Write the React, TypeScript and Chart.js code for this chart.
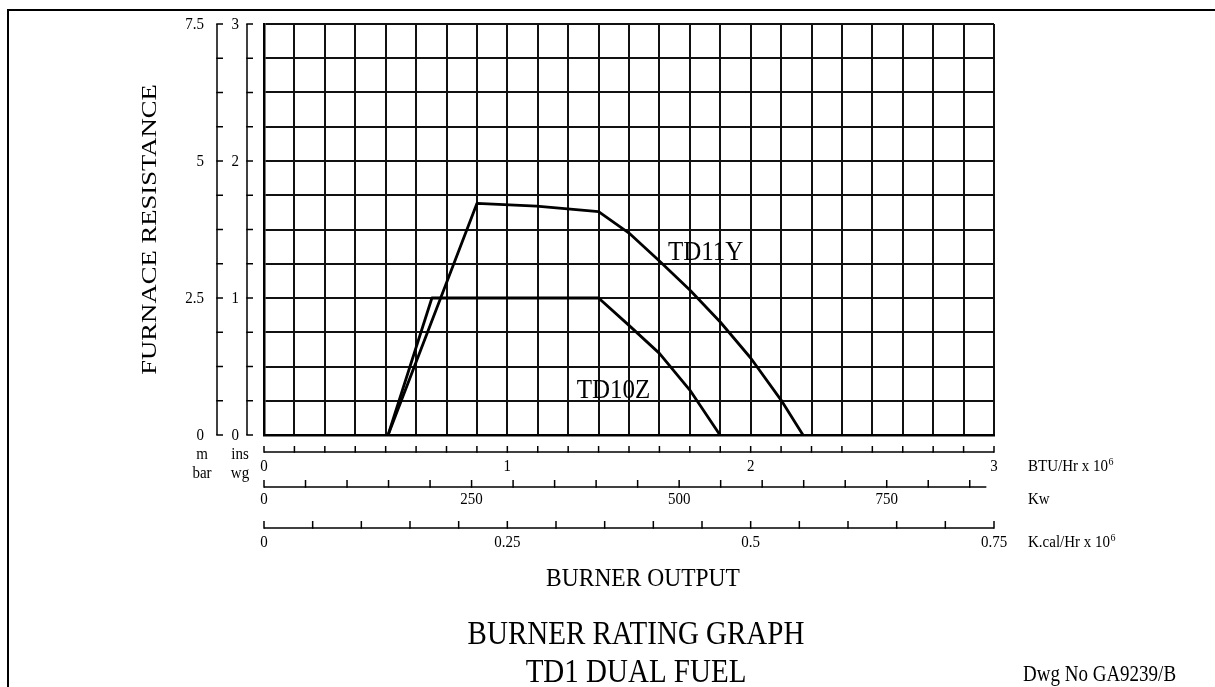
import React, { useEffect, useRef } from "react";
import { Chart, registerables } from "chart.js";

Chart.register(...registerables);

// ---- Data (x: BTU/Hr x 10^6, y: ins wg) ----
const TD11Y_BTU = [0.51, 0.875, 1.12, 1.375, 1.5, 1.625, 1.75, 1.875, 2.0, 2.125, 2.215];
const TD11Y_INSWG = [0, 1.69, 1.67, 1.63, 1.474, 1.27, 1.058, 0.825, 0.562, 0.255, 0];
const TD10Z_BTU = [0.51, 0.69, 1.375, 1.5, 1.625, 1.75, 1.874];
const TD10Z_INSWG = [0, 1.0, 1.0, 0.8, 0.596, 0.328, 0];

// ---- Axis ticks / labels ----
const BTU_LABELS = [0, 1, 2, 3];
const BTU_STEP = 0.125;
const BTU_MAX = 3;
const KW_LABELS = [0, 250, 500, 750];
const KW_STEP = 50;
const KW_LAST_TICK = 850;
const KW_LINE_END = 870;
const KW_PER_MBTU = 293.07;
const KCAL_LABELS = [0, 0.25, 0.5, 0.75];
const KCAL_STEP = 0.05;
const KCAL_MAX = 0.75;
const INSWG_LABELS = [0, 1, 2, 3];
const INSWG_STEP = 0.25;
const INSWG_MAX = 3;
const MBAR_LABELS = [0, 2.5, 5, 7.5];
const MBAR_STEP = 0.625;
const MBAR_MAX = 7.5;

const SERIES_LABELS = ["TD11Y", "TD10Z"];
const SERIES_LABEL_POS = [
  { x: 1.66, y: 1.277 },
  { x: 1.285, y: 0.27 },
];

const FONT = '"Liberation Serif", "Times New Roman", serif';

function txt(
  ctx: CanvasRenderingContext2D,
  s: string,
  x: number,
  y: number,
  size: number,
  align: CanvasTextAlign,
  baseline: CanvasTextBaseline,
  sy = 1.1
) {
  ctx.save();
  ctx.translate(x, y);
  ctx.scale(1, sy);
  ctx.font = `${size}px ${FONT}`;
  ctx.textAlign = align;
  ctx.textBaseline = baseline;
  ctx.fillStyle = "#000";
  ctx.fillText(s, 0, 0);
  ctx.restore();
}

function line(ctx: CanvasRenderingContext2D, x1: number, y1: number, x2: number, y2: number, w = 1.5) {
  ctx.beginPath();
  ctx.lineWidth = w;
  ctx.strokeStyle = "#000";
  ctx.moveTo(x1, y1);
  ctx.lineTo(x2, y2);
  ctx.stroke();
}

const decorPlugin = {
  id: "decor",
  afterDraw(chart: any) {
    const ctx: CanvasRenderingContext2D = chart.ctx;
    const { left, right, top, bottom } = chart.chartArea;
    const sx = chart.scales.x;
    const sy = chart.scales.y;
    const kw = chart.scales.kw;
    const kc = chart.scales.kcal;
    const mb = chart.scales.mbar;
    ctx.save();

    // page frame
    line(ctx, 7, 10, 1215, 10, 2);
    line(ctx, 8, 9, 8, 687, 2);

    // ---- left axes ----
    const mbX = left - 47;
    const inX = left - 17;
    line(ctx, mbX, mb.getPixelForValue(0), mbX, mb.getPixelForValue(MBAR_MAX), 1.5);
    for (let i = 0; i * MBAR_STEP <= MBAR_MAX + 1e-9; i++) {
      const p = mb.getPixelForValue(i * MBAR_STEP);
      line(ctx, mbX - 0.75, p, mbX + 6, p, 1.5);
    }
    MBAR_LABELS.forEach((v) => {
      txt(ctx, String(v), mbX - 13, mb.getPixelForValue(v) + 1, 15, "right", "middle", 1.1);
    });
    line(ctx, inX, sy.getPixelForValue(0), inX, sy.getPixelForValue(INSWG_MAX), 1.5);
    for (let i = 0; i * INSWG_STEP <= INSWG_MAX + 1e-9; i++) {
      const p = sy.getPixelForValue(i * INSWG_STEP);
      line(ctx, inX - 0.75, p, inX + 6, p, 1.5);
    }
    INSWG_LABELS.forEach((v) => {
      txt(ctx, String(v), inX - 8, sy.getPixelForValue(v) + 1, 15, "right", "middle", 1.1);
    });
    txt(ctx, "m", mbX - 15, bottom + 20, 15, "center", "middle", 1.1);
    txt(ctx, "bar", mbX - 15, bottom + 39, 15, "center", "middle", 1.1);
    txt(ctx, "ins", inX - 7, bottom + 20, 15, "center", "middle", 1.1);
    txt(ctx, "wg", inX - 7, bottom + 39, 15, "center", "middle", 1.1);

    // ---- bottom axes ----
    const btuY = bottom + 17;
    line(ctx, sx.getPixelForValue(0), btuY, sx.getPixelForValue(BTU_MAX), btuY, 1.5);
    for (let i = 0; i * BTU_STEP <= BTU_MAX + 1e-9; i++) {
      const p = sx.getPixelForValue(i * BTU_STEP);
      line(ctx, p, btuY + 0.75, p, btuY - 6, 1.5);
    }
    BTU_LABELS.forEach((v) => {
      txt(ctx, String(v), sx.getPixelForValue(v), btuY + 15, 15, "center", "middle", 1.1);
    });

    const kwY = bottom + 52;
    line(ctx, kw.getPixelForValue(0), kwY, kw.getPixelForValue(KW_LINE_END), kwY, 1.5);
    for (let i = 0; i * KW_STEP <= KW_LAST_TICK + 1e-9; i++) {
      const p = kw.getPixelForValue(i * KW_STEP);
      line(ctx, p, kwY + 0.75, p, kwY - 7, 1.5);
    }
    KW_LABELS.forEach((v) => {
      txt(ctx, String(v), kw.getPixelForValue(v), kwY + 13, 15, "center", "middle", 1.1);
    });

    const kcY = bottom + 93;
    line(ctx, kc.getPixelForValue(0), kcY, kc.getPixelForValue(KCAL_MAX), kcY, 1.5);
    for (let i = 0; i * KCAL_STEP <= KCAL_MAX + 1e-9; i++) {
      const p = kc.getPixelForValue(i * KCAL_STEP);
      line(ctx, p, kcY + 0.75, p, kcY - 7, 1.5);
    }
    KCAL_LABELS.forEach((v) => {
      txt(ctx, String(v), kc.getPixelForValue(v), kcY + 15, 15, "center", "middle", 1.1);
    });

    // unit labels
    const ux = right + 34;
    txt(ctx, "BTU/Hr x 10", ux, btuY + 15, 15, "left", "middle", 1.1);
    ctx.font = `15px ${FONT}`;
    let w = ctx.measureText("BTU/Hr x 10").width;
    txt(ctx, "6", ux + w + 0.5, btuY + 10, 10, "left", "middle", 1.1);
    txt(ctx, "Kw", ux, kwY + 13, 15, "left", "middle", 1.1);
    txt(ctx, "K.cal/Hr x 10", ux, kcY + 15, 15, "left", "middle", 1.1);
    ctx.font = `15px ${FONT}`;
    w = ctx.measureText("K.cal/Hr x 10").width;
    txt(ctx, "6", ux + w + 0.5, kcY + 10, 10, "left", "middle", 1.1);

    // series labels
    SERIES_LABELS.forEach((s, i) => {
      const p = SERIES_LABEL_POS[i];
      txt(ctx, s, sx.getPixelForValue(p.x), sy.getPixelForValue(p.y), 25, "left", "alphabetic", 1.12);
    });

    // titles
    ctx.save();
    ctx.translate(150, (top + bottom) / 2);
    ctx.scale(1, 1.27);
    ctx.rotate(-Math.PI / 2);
    ctx.font = `21px ${FONT}`;
    ctx.textAlign = "center";
    ctx.textBaseline = "middle";
    ctx.fillStyle = "#000";
    ctx.fillText("FURNACE RESISTANCE", 0, 0);
    ctx.restore();

    txt(ctx, "BURNER OUTPUT", 643, 586, 23.5, "center", "alphabetic", 1.1);
    txt(ctx, "BURNER RATING GRAPH", 636, 644, 29, "center", "alphabetic", 1.13);
    txt(ctx, "TD1 DUAL FUEL", 636, 682, 29, "center", "alphabetic", 1.13);
    txt(ctx, "Dwg No GA9239/B", 1023, 681, 19, "left", "alphabetic", 1.2);

    ctx.restore();
  },
};

export default function App() {
  const ref = useRef<HTMLCanvasElement | null>(null);
  useEffect(() => {
    if (!ref.current) return;
    const chart = new Chart(ref.current, {
      type: "scatter",
      data: {
        datasets: [
          {
            label: SERIES_LABELS[0],
            data: TD11Y_BTU.map((x, i) => ({ x, y: TD11Y_INSWG[i] })),
            showLine: true,
            borderColor: "#000",
            borderWidth: 2.8,
            borderJoinStyle: "round",
            pointRadius: 0,
            fill: false,
          },
          {
            label: SERIES_LABELS[1],
            data: TD10Z_BTU.map((x, i) => ({ x, y: TD10Z_INSWG[i] })),
            showLine: true,
            borderColor: "#000",
            borderWidth: 2.8,
            borderJoinStyle: "round",
            pointRadius: 0,
            fill: false,
          },
        ],
      },
      options: {
        animation: false,
        responsive: false,
        devicePixelRatio: 1,
        layout: { padding: { left: 264, right: 221, top: 24, bottom: 252 } },
        plugins: { legend: { display: false }, tooltip: { enabled: false }, title: { display: false } },
        scales: {
          x: {
            type: "linear",
            position: "bottom",
            min: 0,
            max: BTU_MAX,
            ticks: { display: false, stepSize: BTU_STEP, autoSkip: false, maxTicksLimit: 200 },
            grid: { color: "#111", lineWidth: 2, drawTicks: false },
            border: { display: true, color: "#000", width: 2.5 },
            afterFit: (s: any) => {
              s.height = 0;
            },
          },
          y: {
            type: "linear",
            position: "left",
            min: 0,
            max: INSWG_MAX,
            ticks: { display: false, stepSize: INSWG_STEP, autoSkip: false, maxTicksLimit: 200 },
            grid: { color: "#111", lineWidth: 2, drawTicks: false },
            border: { display: true, color: "#000", width: 2.5 },
            afterFit: (s: any) => {
              s.width = 0;
            },
          },
          kw: { type: "linear", axis: "x", position: "bottom", display: false, min: 0, max: BTU_MAX * KW_PER_MBTU },
          kcal: { type: "linear", axis: "x", position: "bottom", display: false, min: 0, max: KCAL_MAX },
          mbar: { type: "linear", axis: "y", position: "left", display: false, min: 0, max: MBAR_MAX },
        },
      } as any,
      plugins: [decorPlugin],
    });
    return () => chart.destroy();
  }, []);
  return (
    <canvas
      ref={ref}
      width={1215}
      height={687}
      style={{ position: "absolute", left: 0, top: 0, width: 1215, height: 687, background: "#fff" }}
    />
  );
}
